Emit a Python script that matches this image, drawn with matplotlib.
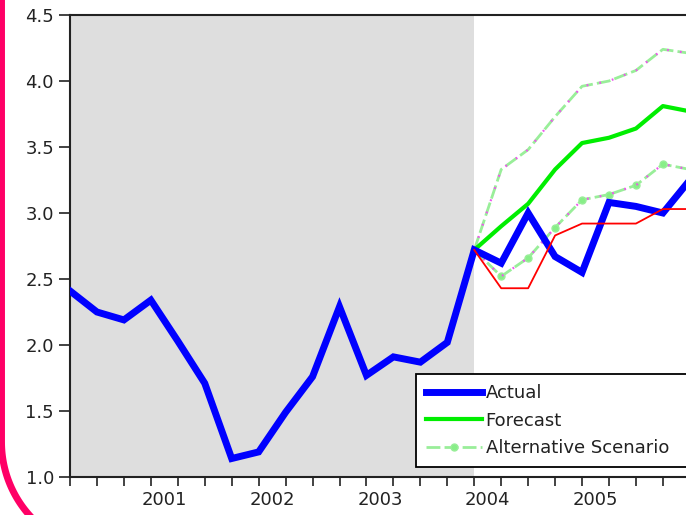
import numpy as np
import matplotlib
matplotlib.use("Agg")
import matplotlib.pyplot as plt
from matplotlib.lines import Line2D

plt.rcParams['font.family'] = ['DejaVu Sans']

# quarterly series, 2000Q1 .. 2005Q4 (index 0 = 2000Q1)
actual = [2.41, 2.25, 2.19, 2.34, 2.03, 1.71, 1.14, 1.19, 1.49, 1.76, 2.29, 1.77,
          1.91, 1.87, 2.02, 2.72, 2.62, 3.00, 2.67, 2.55, 3.08, 3.05, 3.00, 3.25]
forecast_start = 15  # 2003Q4, end of shaded history
forecast = [2.72, 2.90, 3.07, 3.33, 3.53, 3.57, 3.64, 3.81, 3.77]
upper_band = [2.72, 3.33, 3.48, 3.73, 3.96, 4.00, 4.08, 4.24, 4.21]
alt_scenario = [2.72, 2.52, 2.66, 2.89, 3.10, 3.14, 3.21, 3.37, 3.33]
alt_forecast = [2.72, 2.43, 2.43, 2.83, 2.92, 2.92, 2.92, 3.03, 3.03]
years = ['2001', '2002', '2003', '2004', '2005']
year_pos = [3.5, 7.5, 11.5, 15.5, 19.5]

W, H = 686, 515
fig = plt.figure(figsize=(W / 100, H / 100), dpi=100)
ax = fig.add_axes([70 / W, 1 - 477 / H, (W - 70) / W, (477 - 15) / H])

x_hist = np.arange(len(actual))
x_fc = np.arange(forecast_start, forecast_start + len(forecast))

ax.axvspan(0, forecast_start, color='#dedede', lw=0, zorder=0)

lt_green = '#99ee99'
ax.plot(x_fc, upper_band, color=lt_green, lw=2, ls=(0, (5, 1.5)), zorder=2)
ax.plot(x_fc, upper_band, color='#ee55ee', lw=1.6, ls=(0, (0.8, 5)), zorder=2.1)
alt_line, = ax.plot(x_fc, alt_scenario, color=lt_green, lw=2, ls=(0, (5, 1.5)),
                    marker='o', ms=5, mec=lt_green, mfc='#88ee88', zorder=2,
                    label='Alternative Scenario')
ax.plot(x_fc, alt_scenario, color='#ee55ee', lw=1.6, ls=(0, (0.8, 5)), zorder=2.1)
fc_line, = ax.plot(x_fc, forecast, color='#00ee00', lw=3, zorder=3, label='Forecast')
act_line, = ax.plot(x_hist, actual, color='#0000ff', lw=5, zorder=4,
                    solid_joinstyle='miter', label='Actual')
ax.plot(x_fc, alt_forecast, color='#ff0000', lw=1.3, zorder=5)

ax.set_xlim(0, (W - 70) / 26.95)
ax.set_ylim(1.0, 4.5)
ax.set_yticks(np.arange(1.0, 4.51, 0.5))
ax.set_yticklabels([f'{v:.1f}' for v in np.arange(1.0, 4.51, 0.5)])
ax.set_xticks(np.arange(0, 23))
ax.set_xticklabels([])
ax.set_xticks(year_pos, minor=True)
ax.set_xticklabels(years, minor=True)
ax.tick_params(axis='y', direction='out', length=8, width=1.2, pad=3.5,
               labelsize=13, labelcolor='#222222', color='#222222')
ax.tick_params(axis='x', which='major', direction='out', length=6.5, width=1.2,
               color='#222222')
ax.tick_params(axis='x', which='minor', length=0, pad=10, labelsize=13,
               labelcolor='#222222')

for side in ['left', 'bottom', 'top']:
    ax.spines[side].set_linewidth(1.5)
    ax.spines[side].set_color('#222222')
ax.spines['right'].set_visible(False)

leg = ax.legend(handles=[act_line, fc_line, alt_line], loc='upper left',
                bbox_to_anchor=(416 / W, 1 - 464 / H, (710 - 416) / W, 90 / H),
                bbox_transform=fig.transFigure, mode='expand', borderaxespad=0,
                fontsize=13, handlelength=3.1, handletextpad=0.2,
                labelspacing=0.53, borderpad=0.55, numpoints=1,
                fancybox=False, framealpha=1, edgecolor='black')
leg.get_frame().set_linewidth(1.3)
leg.set_zorder(10)
for t in leg.get_texts():
    t.set_color('#222222')

# pink rounded frame at the left/bottom edge of the picture (one path)
pink = '#ff0066'
cx, cy, r = 111.5, 442, 110
theta = np.linspace(np.pi, 1.5 * np.pi, 60)
frame_x = np.concatenate([[cx - r], cx + r * np.cos(theta)])
frame_y = np.concatenate([[-20], cy - r * np.sin(theta)])
fig.add_artist(Line2D(frame_x / W, 1 - frame_y / H, color=pink, lw=5,
                      solid_joinstyle='round', transform=fig.transFigure))

fig.savefig('out.png', dpi=100)
